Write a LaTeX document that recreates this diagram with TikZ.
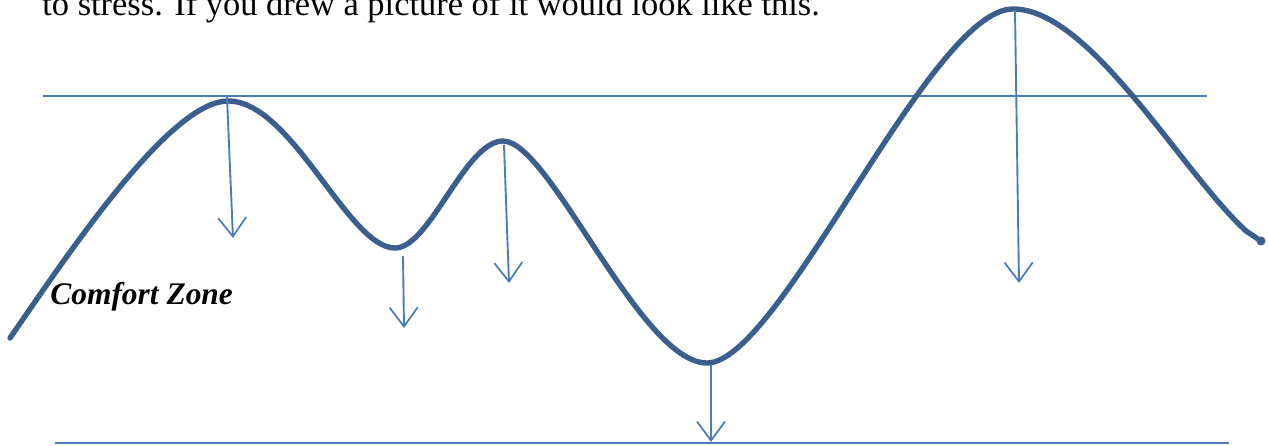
\documentclass[tikz,border=0pt]{standalone}
\usepackage{fontspec}
\setmainfont{Liberation Serif}
\usetikzlibrary{arrows.meta,positioning}

\definecolor{wave}{HTML}{3A5F8E}
\definecolor{guide}{HTML}{4A7EBB}

\begin{document}
\begin{tikzpicture}[
  x=0.02cm, y=-0.02cm,
  font=\fontsize{19.6}{23}\selectfont,
  wavy/.style={draw=wave, line width=5.4pt*0.5669, line cap=round},
  level/.style={draw=guide, line width=2pt*0.5669},
  drop/.style={-{Straight Barb[length=0.38cm, width=0.56cm, line width=1pt]}, draw=guide, line width=1.9pt*0.5669}
]
\useasboundingbox (0,0) rectangle (1268,446);

% text of the page above the picture
\node[anchor=base west, inner sep=0pt] (intro) at (42,16) {to stress. If you drew a picture of it would look like this.};
\node[anchor=base west, inner sep=0pt, font=\fontsize{17.9}{21}\selectfont\bfseries\itshape] (zone) at (50,304) {Comfort Zone};

% upper and lower level
\coordinate (top-l) at (43,96);
\coordinate (top-r) at (1207,96);
\coordinate (bot-l) at (55,443);
\coordinate (bot-r) at (1229,443);
\draw[level] (top-l) -- (top-r);
\draw[level] (bot-l) -- (bot-r);

% the ups and downs
\coordinate (s) at (10,338);
\coordinate (p1) at (228,101);
\coordinate (t1) at (395,248);
\coordinate (p2) at (503,141);
\coordinate (t2) at (707,363);
\coordinate (p3) at (1013,9);
\coordinate (e) at (1246,231);
\coordinate (e2) at (1261,241);
\draw[wavy] (s) .. controls (68,254) and (170,101) .. (p1)
  .. controls (292,101) and (348,248) .. (t1)
  .. controls (430,248) and (465,141) .. (p2)
  .. controls (550,141) and (640,363) .. (t2)
  .. controls (780,363) and (930,9) .. (p3)
  .. controls (1090,9) and (1180,170) .. (e)
  -- (e2);
\fill[wave] (e2) circle (4.5);

% arrows pointing down
\coordinate (a1) at (227,97);   \coordinate (b1) at (233,238);
\coordinate (a2) at (403,256);  \coordinate (b2) at (404,328);
\coordinate (a3) at (504,145);  \coordinate (b3) at (509,283);
\coordinate (a4) at (711,365);  \coordinate (b4) at (711,442);
\coordinate (a5) at (1015,10);  \coordinate (b5) at (1019,283);
\foreach \i in {1,...,5}
  \draw[drop] (a\i) -- (b\i);
\end{tikzpicture}
\end{document}
